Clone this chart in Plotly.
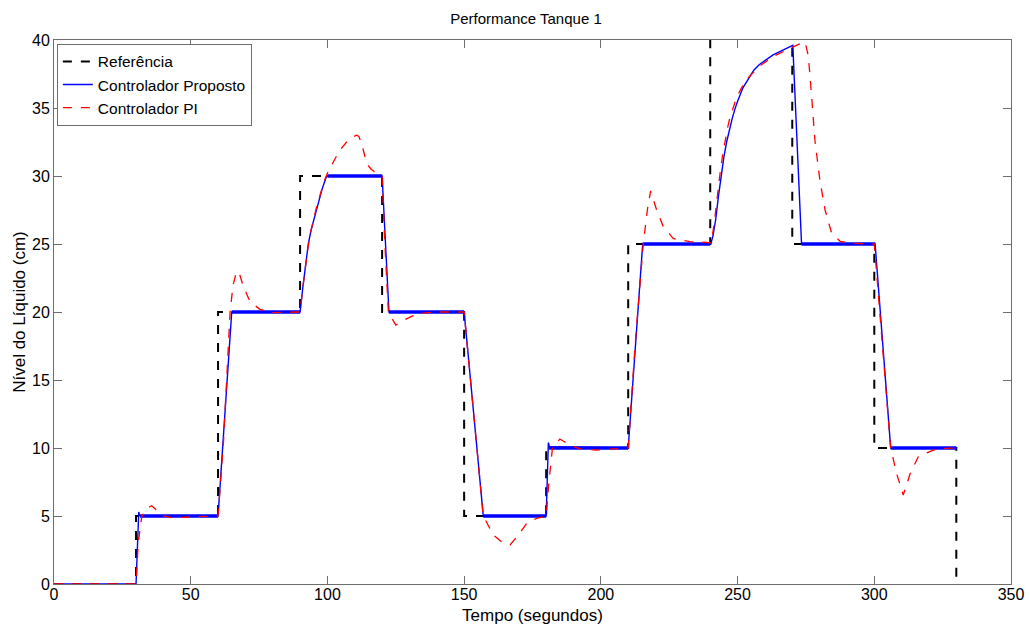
import plotly.graph_objects as go

# Reference (setpoint) steps
ref_t = [0, 30, 60, 90, 120, 150, 180, 210, 240, 270, 300, 330]
ref_v = [0, 5, 20, 30, 20, 5, 10, 25, 45, 25, 10, 0]

# Proposed controller (mean response)
prop_t = [0, 30, 31.0, 31.2, 31.6, 60, 65, 90, 91, 92, 93, 94, 95, 96, 97, 98, 99, 99.7,
          120, 122.5, 150, 157, 180, 180.8, 181.2, 210, 215.3,
          240.2, 241, 242, 243, 244, 245, 246, 247, 248, 249, 250, 252, 254, 256, 258,
          260, 263, 266, 268, 270.2, 273.4, 300.3, 306, 330]
prop_v = [0, 0, 5.3, 5.1, 5.0, 5.0, 20, 20, 21.8, 23.6, 25.0, 26.0, 26.8, 27.6, 28.3, 29.0, 29.6, 30,
          30, 20, 20, 5, 5, 10.4, 10.1, 10, 25,
          25, 25.6, 26.8, 28.5, 30.1, 31.4, 32.5, 33.4, 34.2, 34.9, 35.5, 36.5, 37.2, 37.8, 38.2,
          38.5, 38.9, 39.2, 39.4, 39.6, 25, 25, 10, 10]

# Noisy plateau bands of the proposed controller
band_start = [31.5, 65, 100, 122.5, 157, 181, 215.3, 273.4, 306]
band_end = [60, 90, 120, 150, 180, 210, 240, 300.3, 330]
band_level = [5, 20, 30, 20, 5, 10, 25, 25, 10]

# PI controller
pi_t = [0, 30, 30.8, 32.1, 33.5, 35.7, 38, 40, 43, 48, 55, 60, 62, 64.4, 65.5, 66.8,
        68, 69.2, 71.7, 75.3, 80, 85,
        90, 91, 92, 93, 94, 95, 96, 97, 98, 99, 100, 101.5, 103.4, 105, 107, 109, 110.7,
        111.5, 112.5, 113.5, 114.4, 116, 118, 120,
        121, 122.3, 125, 128, 131, 134, 140, 150, 153, 157,
        160.7, 163.7, 166.8, 169.8, 172.9, 176.5, 180, 181, 182.3, 185, 188, 192, 198,
        204, 210, 212.5, 215.5, 217, 218.2, 220.4, 222.8, 226.5, 232.6, 240,
        240.4, 241.5, 242.5, 243.6, 244.5, 245.4, 246.3, 247.2, 248.5, 249.7, 251.5, 253.3,
        255.7, 258.2, 263.1, 268, 270.4, 272.5, 274.7,
        275.9, 277.1, 278.3, 280.1, 282, 284.4, 287.5, 292, 300, 303, 306,
        308.2, 310.6, 313.1, 316.1, 321.6, 326, 330]
pi_v = [0, 0, 3.0, 4.95, 5.5, 5.75, 5.35, 5.0, 4.88, 4.92, 5.0, 5.0, 10.5, 20, 22, 23.0,
        22.7, 21.9, 20.75, 20.2, 19.95, 19.97,
        20.0, 21.8, 23.5, 24.9, 26.0, 26.9, 27.7, 28.4, 29.1, 29.7, 30.2, 30.8, 31.5, 32.0, 32.5, 32.85, 33.0,
        32.9, 32.4, 31.6, 30.9, 30.5, 30.2, 30.0,
        25, 20, 19.04, 19.4, 19.7, 19.9, 20.0, 20.0, 13.5, 5.0,
        3.6, 3.1, 2.87, 3.6, 4.46, 4.83, 5.0, 7.5, 10, 10.66, 10.3, 9.95, 9.85,
        9.95, 10.0, 17.5, 25, 27.5, 28.9, 27.5, 26.3, 25.4, 25.17, 25.1,
        25.05, 26.6, 28.4, 30.2, 31.5, 32.6, 33.5, 34.3, 35.1, 35.8, 36.5, 37.1,
        37.6, 38.1, 38.8, 39.3, 39.5, 39.7, 39.85,
        38.8, 35.8, 32.6, 29.7, 27.5, 25.8, 25.2, 25.05, 25.0, 17.5, 10,
        8.1, 6.54, 8.1, 9.36, 9.85, 9.97, 10.0]

x_ticks = [0, 50, 100, 150, 200, 250, 300, 350]
y_ticks = [0, 5, 10, 15, 20, 25, 30, 35, 40]

FONT = "Liberation Sans, Arial, Helvetica, sans-serif"

band_x, band_y = [], []
for s, e, lv in zip(band_start, band_end, band_level):
    band_x += [s, e, None]
    band_y += [lv, lv, None]

fig = go.Figure()
fig.add_trace(go.Scatter(x=ref_t, y=ref_v, mode="lines", line_shape="hv",
                         name="Referência",
                         line=dict(color="black", width=2, dash="dash")))
fig.add_trace(go.Scatter(x=band_x, y=band_y, mode="lines", showlegend=False,
                         legendgroup="prop", hoverinfo="skip",
                         line=dict(color="#0000ff", width=3.5)))
fig.add_trace(go.Scatter(x=prop_t, y=prop_v, mode="lines", name="Controlador Proposto",
                         legendgroup="prop",
                         line=dict(color="#0000ff", width=1.4)))
fig.add_trace(go.Scatter(x=pi_t, y=pi_v, mode="lines", name="Controlador PI",
                         line=dict(color="#ff0000", width=1.3, dash="dash")))

axis_common = dict(showgrid=False, zeroline=False, showline=True, linecolor="#6e6e6e",
                   linewidth=1, mirror="ticks", ticks="inside", ticklen=8,
                   tickcolor="#6e6e6e", tickwidth=1, automargin=False,
                   tickfont=dict(family=FONT, size=16, color="black"))

fig.update_layout(
    width=1030, height=628,
    margin=dict(l=54, r=19, t=40, b=44),
    paper_bgcolor="white", plot_bgcolor="white",
    font=dict(family=FONT, size=15, color="black"),
    title=dict(text="Performance Tanque 1", x=526 / 1030, xanchor="center",
               y=1 - 19 / 628, yanchor="middle", font=dict(size=15)),
    xaxis=dict(range=[0, 350], tickvals=x_ticks, ticklabelstandoff=-4, **axis_common,
               title=dict(text="Tempo (segundos)", standoff=6, font=dict(size=17))),
    yaxis=dict(range=[0, 40], tickvals=y_ticks, **axis_common,
               title=dict(text="Nível do Líquido (cm)", standoff=2, font=dict(size=17))),
    legend=dict(x=0.003, y=0.993, xanchor="left", yanchor="top",
                bgcolor="white", bordercolor="#6e6e6e", borderwidth=1,
                font=dict(size=15.5), tracegroupgap=0),
    showlegend=True,
)

fig.write_html("out.html")
